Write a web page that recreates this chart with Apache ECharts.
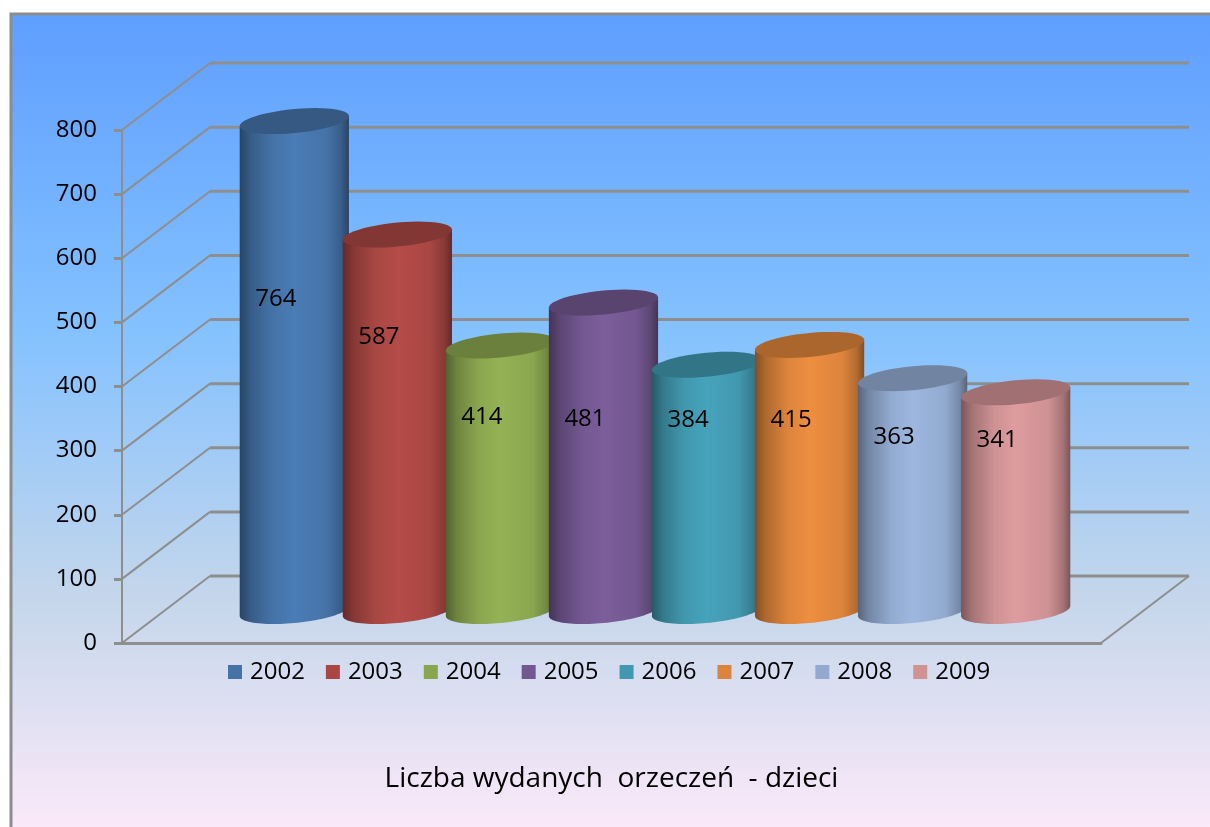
<!DOCTYPE html>
<html>
<head>
<meta charset="utf-8">
<style>html,body{margin:0;padding:0;background:#fff}#c{width:1210px;height:827px}</style>
<script src="https://cdn.jsdelivr.net/npm/echarts@6/dist/echarts.min.js"></script>
</head>
<body>
<div id="c"></div>
<script>
const years = ['2002','2003','2004','2005','2006','2007','2008','2009'];
const values = [764,587,414,481,384,415,363,341];
const colors = ['#4572A7','#AA4643','#89A54E','#71588F','#4198AF','#DB843D','#93A9CF','#D19392'];
const bodyColors = ['#4A7CB5','#B54C48','#94B255','#7B5E9B','#46A3BC','#EE8E40','#9DB7DF','#DE9C9F'];
const category = ['Liczba wydanych  orzeczeń  - dzieci'];
const gridValues = [0,100,200,300,400,500,600,700,800];
// label height relative to mid-bar, as drawn by the original
const labelLift = [67,86,61,38,68,58,57,62];

const FONT = '"Open Sans", sans-serif';
const GREY = '#8E8E8E';
const DEPTH_X = 88, DEPTH_Y = 67;     // wall depth
const MID_X = 43.5, MID_Y = 32;       // depth of the cylinders' plane
const RIM = 12, TILT = 5;             // ellipse shape

function shade(hex, f){
  const n = parseInt(hex.slice(1),16);
  const c = s => Math.round(((n>>s)&255)*f);
  return 'rgb('+c(16)+','+c(8)+','+c(0)+')';
}
function wall(params, api){
  const box = params.coordSys;
  const p = api.coord([0, api.value(1)]);
  const y = p[1], x0 = box.x, x1 = box.x + box.width;
  const children = [
    {type:'polyline', shape:{points:[[x0,y],[x0+DEPTH_X,y-DEPTH_Y]]}, style:{stroke:GREY,lineWidth:2,fill:null}},
    {type:'polyline', shape:{points:[[x0+DEPTH_X,y-DEPTH_Y],[x1+DEPTH_X,y-DEPTH_Y]]}, style:{stroke:GREY,lineWidth:3,fill:null}}
  ];
  if (api.value(1) === 0) {
    children.push({type:'polyline', shape:{points:[[x1,y],[x1+DEPTH_X,y-DEPTH_Y]]}, style:{stroke:GREY,lineWidth:2,fill:null}});
  }
  return {type:'group', children};
}
function cylinder(index){
  return function(params, api){
    const band = api.size([1,0])[0];
    const step = band / 9.5;
    const a = step * 1.06 / 2;
    const base = api.coord([0, 0]);
    const top = api.coord([0, api.value(1)]);
    const cx = base[0] + MID_X + (index - 3.5) * step;
    const yb = base[1] - MID_Y, yt = top[1] - MID_Y;
    const lip = (cy, from, to) => {
      const pts = [];
      for (let i = 0; i <= 48; i++) {
        const t = from + (to - from) * i / 48;
        pts.push([cx + a * Math.cos(t), cy + RIM * Math.sin(t) - TILT * Math.cos(t)]);
      }
      return pts;
    };
    const c = bodyColors[index];
    const body = [[cx - a, yt + TILT], [cx + a, yt - TILT]].concat(lip(yb, 0, Math.PI));
    return {type:'group', children:[
      {type:'polygon', shape:{points:body}, style:{fill:new echarts.graphic.LinearGradient(0,0,1,0,[
        {offset:0,color:shade(c,.55)},{offset:.1,color:shade(c,.74)},{offset:.3,color:shade(c,.93)},
        {offset:.5,color:c},{offset:.8,color:shade(c,.93)},{offset:.93,color:shade(c,.75)},{offset:1,color:shade(c,.55)}])}},
      {type:'polygon', shape:{points:lip(yt, 0, Math.PI * 2)}, style:{fill:shade(c,.72)}},
      {type:'text', style:{text:String(api.value(1)), x:cx - 18.5, y:(yb + yt) / 2 - labelLift[index],
        fill:'#000', font:'24px '+FONT, align:'center', verticalAlign:'middle'}}
    ]};
  };
}

const chart = echarts.init(document.getElementById('c'), null, {renderer:'canvas'});
chart.setOption({
  animation:false,
  backgroundColor:'#fff',
  graphic:[{type:'rect', z:-100, silent:true, shape:{x:11,y:14,width:1215,height:830},
    style:{stroke:'#8C8C8C', lineWidth:3,
      fill:new echarts.graphic.LinearGradient(0,0,0,1,[
        {offset:0,color:'#5E9EFF'},{offset:.39,color:'#85C2FF'},{offset:.7,color:'#C4D6EB'},{offset:1,color:'#FFEBFA'}])}}],
  grid:{left:122, top:130, width:979, height:513, containLabel:false},
  legend:{data:years, left:223, top:655, itemWidth:14, itemHeight:14, itemGap:21, icon:'rect',
    textStyle:{fontFamily:FONT, fontSize:24, color:'#000', padding:[0,0,0,3]}},
  xAxis:{type:'category', data:category,
    axisLine:{show:true, lineStyle:{color:GREY,width:3}}, axisTick:{show:false},
    axisLabel:{margin:122, fontFamily:FONT, fontSize:28, color:'#000'}, splitLine:{show:false}},
  yAxis:{type:'value', min:0, max:800, interval:100,
    axisLine:{show:true, lineStyle:{color:GREY,width:2}},
    axisTick:{show:true, length:8, lineStyle:{color:GREY,width:3}},
    axisLabel:{margin:25, fontFamily:FONT, fontSize:24, color:'#000', padding:[4,0,0,0]}, splitLine:{show:false}},
  series:[{type:'custom', name:'walls', silent:true, clip:false, z:1,
      encode:{x:0,y:1}, data:gridValues.map(v=>[0,v]), renderItem:wall}]
    .concat(years.map((y,i)=>({type:'custom', name:y, clip:false, z:3, silent:true,
      itemStyle:{color:colors[i]}, encode:{x:0,y:1}, data:[[0,values[i]]], renderItem:cylinder(i)})))
});
</script>
</body>
</html>
